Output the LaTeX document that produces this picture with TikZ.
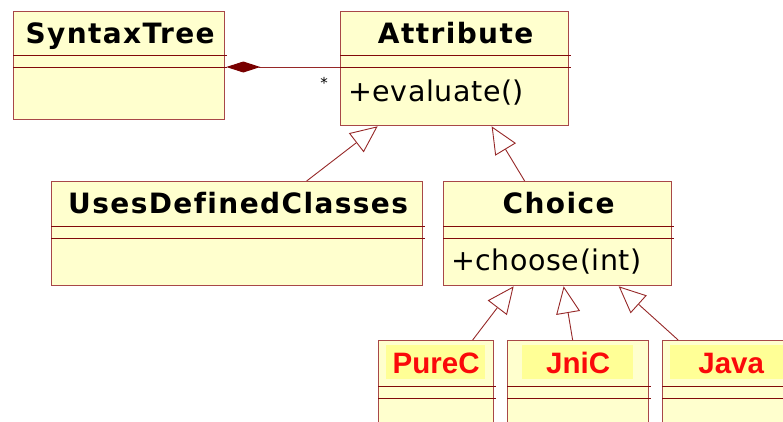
\documentclass[tikz,border=0pt]{standalone}
\usepackage{fontspec}
\setmainfont{DejaVu Sans}
\newfontfamily\stereofont{Liberation Sans}
\usetikzlibrary{arrows.meta}
\definecolor{boxline}{RGB}{168,72,72}
\definecolor{sepline}{RGB}{130,10,10}
\definecolor{boxfill}{RGB}{255,255,206}
\definecolor{hilite}{RGB}{255,255,150}
\definecolor{conn}{RGB}{150,40,40}
\definecolor{diamondc}{RGB}{120,0,0}
\definecolor{redtext}{RGB}{250,10,10}

% separator lines of a class box: node name, offset from the top
\newcommand\compsep[2]{\draw[sepstyle] ([yshift=-#2]#1.north west) -- ([yshift=-#2,xshift=2pt]#1.north east);}

\begin{document}
\begin{tikzpicture}[x=1pt,y=-1pt,
  classbox/.style={draw=boxline, fill=boxfill, line width=1.3pt, inner sep=0pt, anchor=north west},
  sepstyle/.style={draw=sepline, line width=1pt},
  hdr/.style={font=\fontsize{28}{30}\selectfont\bfseries\addfontfeatures{LetterSpace=5,Ligatures=NoCommon}, inner sep=0pt, anchor=base},
  meth/.style={font=\fontsize{28.5}{30}\selectfont\addfontfeatures{LetterSpace=2}, inner sep=0pt, anchor=base west},
  subname/.style={font=\stereofont\fontsize{29.5}{31}\selectfont\bfseries, text=redtext, inner sep=0pt, anchor=base},
  hibox/.style={fill=hilite, draw=none, inner sep=0pt, anchor=north west},
  gen/.style={draw=conn, line width=0.9pt, -{Triangle[length=27pt, width=24pt, fill=white, line width=0.9pt]}},
  comp/.style={draw=conn, line width=1pt, {Diamond[length=34pt, width=11pt, fill=diamondc, color=diamondc]}-},
]
\useasboundingbox (0,0) rectangle (783,421);
\clip (0,0) rectangle (783,421);

% class boxes
\node[classbox, minimum width=211pt, minimum height=108pt] (st) at (13,11) {};
\node[classbox, minimum width=228pt, minimum height=114pt] (attr) at (340,11) {};
\node[classbox, minimum width=371pt, minimum height=104pt] (udc) at (51,181) {};
\node[classbox, minimum width=228pt, minimum height=104pt] (choice) at (443,181) {};
\node[classbox, minimum width=115pt, minimum height=120pt] (purec) at (378,340) {};
\node[classbox, minimum width=141pt, minimum height=120pt] (jnic) at (507,340) {};
\node[classbox, minimum width=137pt, minimum height=120pt] (java) at (662,340) {};

% compartments
\compsep{st}{44pt}\compsep{st}{56pt}
\compsep{attr}{44pt}\compsep{attr}{56pt}
\compsep{udc}{45pt}\compsep{udc}{57pt}
\compsep{choice}{45pt}\compsep{choice}{57pt}
\compsep{purec}{46pt}\compsep{purec}{58pt}
\compsep{jnic}{46pt}\compsep{jnic}{58pt}
\compsep{java}{46pt}\compsep{java}{58pt}

% highlighted name fields of the subclasses
\node[hibox, minimum width=99pt, minimum height=34pt] (purehi) at ([xshift=8pt,yshift=-5pt]purec.north west) {};
\node[hibox, minimum width=111pt, minimum height=34pt] (jnihi) at ([xshift=15pt,yshift=-5pt]jnic.north west) {};
\node[hibox, minimum width=121pt, minimum height=34pt] (javahi) at ([xshift=8pt,yshift=-5pt]java.north west) {};

% names and operations
\node[hdr] (stname) at ([xshift=1pt,yshift=-32pt]st.north) {SyntaxTree};
\node[hdr] (attrname) at ([xshift=1pt,yshift=-32pt]attr.north) {Attribute};
\node[meth] (attrop) at ([xshift=8pt,yshift=-90pt]attr.north west) {+evaluate()};
\node[hdr] (udcname) at ([xshift=1pt,yshift=-32pt]udc.north) {UsesDefinedClasses};
\node[hdr] (choicename) at ([xshift=1pt,yshift=-32pt]choice.north) {Choice};
\node[meth] (choiceop) at ([xshift=8pt,yshift=-89pt]choice.north west) {+choose(int)};
\node[subname] (purename) at ([yshift=-33pt]purec.north) {PureC};
\node[subname] (jniname) at ([yshift=-33pt]jnic.north) {JniC};
\node[subname] (javaname) at ([yshift=-33pt]java.north) {Java};

% composition
\draw[comp] ([xshift=1pt,yshift=-56pt]st.north east) -- ([yshift=-56pt]attr.north west);
\node[font=\fontsize{15}{15}\selectfont, inner sep=0pt] (mult) at ([xshift=-16pt,yshift=-72pt]attr.north west) {*};

% generalizations
\draw[gen] ([xshift=69.5pt]udc.north) -- ([xshift=-77pt]attr.south);
\draw[gen] ([xshift=-33pt]choice.north) -- ([xshift=37pt]attr.south);
\draw[gen] ([xshift=36.5pt]purec.north) -- ([xshift=-44pt]choice.south);
\draw[gen] ([xshift=-5.5pt]jnic.north) -- ([xshift=6pt]choice.south);
\draw[gen] ([xshift=-53pt]java.north) -- ([xshift=61pt]choice.south);
\end{tikzpicture}
\end{document}
